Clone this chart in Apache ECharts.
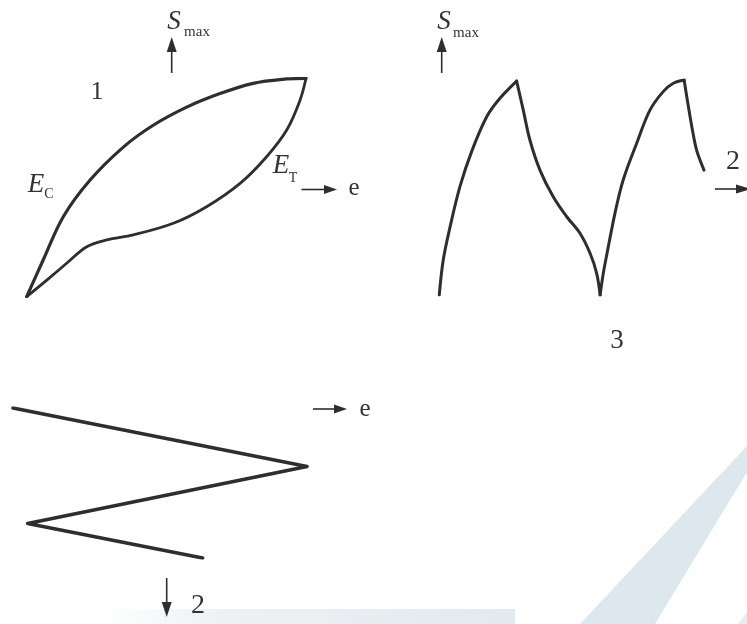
<!DOCTYPE html>
<html>
<head>
<meta charset="utf-8">
<script src="https://cdn.jsdelivr.net/npm/echarts@6/dist/echarts.min.js"></script>
<style>
  html, body { margin: 0; padding: 0; background: #fff; }
  #chart { width: 747px; height: 624px; }
</style>
</head>
<body>
<div id="chart"></div>
<script>
// Panel 1: hysteresis loop (strain e, stress S), normalised 0..100
const loopUpper = [[0,0],[5.9,16.8],[13.1,36.6],[22.7,53.4],[34.6,68.5],[45.3,78.5],[57.3,86.8],[69.2,93.0],[81.1,97.7],[93.1,99.7],[100,100]];
const loopLower = [[100,100],[97.9,90.1],[93.1,76.3],[85.9,64.1],[76.4,51.9],[64.4,41.2],[52.5,33.6],[38.2,28.3],[28.6,26.0],[21.5,22.9],[14.3,15.3],[7.2,7.6],[0,0]];

// Panel 2: S_max over successive cycles
const riseA = [[0.1,0],[1.6,16.3],[4.2,31.8],[7.9,50.4],[12.3,66.7],[18.0,82.9],[23.0,91.5],[29.3,99.5]];
const fallB = [[29.3,99.5],[31.8,86.0],[34.3,72.1],[38.1,58.1],[43.1,45.7],[48.2,36.4],[53.2,28.7],[57.0,19.4],[59.5,10.1],[60.8,0]];
const riseC = [[60.8,0],[62.0,10.1],[63.9,22.5],[66.4,38.0],[69.5,53.5],[74.6,70.6],[79.6,86.0],[84.6,94.6],[88.4,98.5],[92.5,100]];
const fallD = [[92.5,100],[93.7,90.7],[95.4,78.3],[97.2,67.4],[100,58.1]];

// Panel 3: strain zigzag
const zigzag = [[0,100],[100,61],[5,23],[64.5,0]];

const INK = '#2e2e2e';
const TEXT = '#333333';
const SERIF = '"Liberation Serif", "DejaVu Serif", serif';

function axisPair(i) {
  return {
    x: { type: 'value', gridIndex: i, min: 0, max: 100, show: false },
    y: { type: 'value', gridIndex: i, min: 0, max: 100, show: false }
  };
}
const axes = [0, 1, 2].map(axisPair);

function curve(data, gi, width, smooth) {
  return {
    type: 'line', data: data, xAxisIndex: gi, yAxisIndex: gi,
    symbol: 'none', smooth: smooth, silent: true, animation: false,
    lineStyle: { color: INK, width: width, cap: 'round', join: 'round' }
  };
}

// Arrow helper: shaft plus triangular head, tip at (x2, y2)
function arrow(x1, y1, x2, y2, head, half) {
  const dx = x2 - x1, dy = y2 - y1;
  const len = Math.sqrt(dx * dx + dy * dy);
  const ux = dx / len, uy = dy / len;
  const bx = x2 - ux * head, by = y2 - uy * head;
  return [
    { type: 'line', shape: { x1: x1, y1: y1, x2: bx + ux * 1, y2: by + uy * 1 },
      style: { stroke: INK, lineWidth: 1.6 } },
    { type: 'polygon', shape: { points: [[x2, y2], [bx - uy * half, by + ux * half], [bx + uy * half, by - ux * half]] },
      style: { fill: INK } }
  ];
}

function label(text, x, y, size, italic) {
  return {
    type: 'text', x: x, y: y,
    style: { text: text, fill: TEXT, font: (italic ? 'italic ' : '') + size + 'px ' + SERIF,
             align: 'center', verticalAlign: 'middle' }
  };
}

const chart = echarts.init(document.getElementById('chart'), null, { renderer: 'canvas' });

const graphics = [
  // faint backdrop shapes
  { type: 'rect', z: -10, shape: { x: 100, y: 609, width: 415, height: 15 },
    style: { fill: new echarts.graphic.LinearGradient(0, 0, 1, 0, [
      { offset: 0, color: 'rgba(228,235,240,0)' },
      { offset: 0.3, color: 'rgba(228,235,240,0.7)' },
      { offset: 1, color: 'rgba(224,232,238,0.95)' }]) } },
  { type: 'polygon', z: -10, shape: { points: [[580, 624], [747, 446], [747, 472], [655, 624]] },
    style: { fill: '#dde7ee' } },
  { type: 'polygon', z: -10, shape: { points: [[738, 624], [747, 612], [747, 624]] },
    style: { fill: '#e6ecf1' } },

  // panel 1 labels
  label('1', 97, 92, 26, false),
  label('S', 174, 22, 27, true),
  label('max', 197, 32, 15, false),
  label('E', 36, 185, 27, true),
  label('C', 49, 194, 14, false),
  label('E', 281, 166, 27, true),
  label('T', 293, 178, 14, false),
  label('e', 354, 188, 25, false),

  // panel 2 labels
  label('S', 444, 22, 27, true),
  label('max', 466, 33, 15, false),
  label('2', 733, 162, 28, false),
  label('3', 617, 341, 27, false),

  // panel 3 labels
  label('e', 365, 409, 25, false),
  label('2', 198, 606, 28, false)
].concat(
  arrow(171.7, 73, 171.7, 37, 15, 5),
  arrow(301.5, 189.5, 337, 189.5, 13, 4.5),
  arrow(441.7, 73, 441.7, 37, 15, 5),
  arrow(715, 189, 751, 189, 15, 4.5),
  arrow(313, 409, 347, 409, 13, 4.5),
  arrow(166.7, 578, 166.7, 617, 15, 5)
);

chart.setOption({
  backgroundColor: '#ffffff',
  animation: false,
  grid: [
    { left: 26.7, top: 78.3, width: 279.3, height: 218.4 },
    { left: 439, top: 80, width: 265, height: 215 },
    { left: 13, top: 408, width: 294, height: 150 }
  ],
  xAxis: axes.map(a => a.x),
  yAxis: axes.map(a => a.y),
  series: [
    curve(loopUpper, 0, 3.2, 0.35),
    curve(loopLower, 0, 2.8, 0.35),
    curve(riseA, 1, 3, 0.35),
    curve(fallB, 1, 3, 0.35),
    curve(riseC, 1, 3, 0.35),
    curve(fallD, 1, 3, 0.3),
    curve(zigzag, 2, 3.6, false)
  ],
  graphic: graphics
});
</script>
</body>
</html>
